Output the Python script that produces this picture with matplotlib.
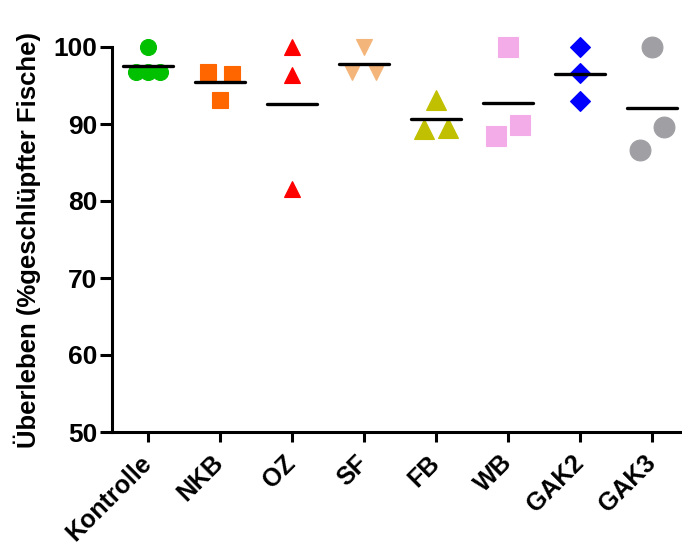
import numpy as np
import matplotlib
matplotlib.use('Agg')
import matplotlib.pyplot as plt

# group names
groups = ['Kontrolle', 'NKB', 'OZ', 'SF', 'FB', 'WB', 'GAK2', 'GAK3']

# survival per replicate (% hatched fish)
kontrolle = [100.0, 96.7, 96.7, 96.7]
nkb = [96.7, 96.5, 93.1]
oz = [100.0, 96.3, 81.5]
sf = [100.0, 96.7, 96.7]
fb = [93.1, 89.3, 89.5]
wb = [100.0, 88.4, 89.9]
gak2 = [100.0, 96.6, 93.0]
gak3 = [100.0, 86.6, 89.6]

values = [kontrolle, nkb, oz, sf, fb, wb, gak2, gak3]

colors = ['#00C000', '#FF6600', '#FF0000', '#F4B57A', '#C0C000', '#F4ACE8', '#0000FF', '#A0A0A4']
markers = ['o', 's', '^', 'v', '^', 's', 'D', 'o']
msizes = [11.5, 11.5, 11.5, 11.5, 15, 14.5, 10.5, 15]

yticks = [50, 60, 70, 80, 90, 100]

plt.rcParams['font.family'] = ['Liberation Sans', 'DejaVu Sans']
plt.rcParams['font.weight'] = 'bold'


def spread(vals, thr=3.15):
    # side by side placement of points that would overlap
    vals = np.asarray(vals)
    order = np.argsort(vals, kind='stable')
    clusters = [[order[0]]]
    for i in order[1:]:
        if vals[i] - vals[clusters[-1][-1]] < thr:
            clusters[-1].append(i)
        else:
            clusters.append([i])
    offs = np.zeros(len(vals))
    pattern = {1: [0.0], 2: [-0.16, 0.16], 3: [-0.17, 0.0, 0.17]}
    for c in clusters:
        c = sorted(c)
        for k, i in enumerate(c):
            offs[i] = pattern[len(c)][k]
    return offs


fig = plt.figure(figsize=(6.82, 5.52), dpi=100)
ax = fig.add_axes([112/682, 120/552, 576/682, 385/552])

for gIter in range(len(groups)):
    v = np.asarray(values[gIter])
    xs = gIter + spread(v)
    ax.plot(xs, v, linestyle='none', marker=markers[gIter], markersize=msizes[gIter],
            color=colors[gIter], markeredgecolor=colors[gIter], markeredgewidth=0.8,
            clip_on=False, zorder=3)
    m = v.mean()
    ax.plot([gIter - 0.35, gIter + 0.35], [m, m], color='black', linewidth=2.4,
            solid_capstyle='round', zorder=4, clip_on=False)

ax.set_xlim(-0.5, len(groups) - 0.5)
ax.set_ylim(50, 100)
ax.set_yticks(yticks)
ax.set_xticks(range(len(groups)))
ax.set_xticklabels(groups, rotation=45, ha='right', va='center', rotation_mode='anchor',
                   fontsize=18, fontweight='bold')
ax.tick_params(axis='y', labelsize=19, length=8.5, width=2.2, pad=2)
ax.tick_params(axis='x', length=7.5, width=2.2, pad=12)

for s in ['top', 'right']:
    ax.spines[s].set_visible(False)
for s in ['left', 'bottom']:
    ax.spines[s].set_linewidth(2.2)

ax.set_ylabel('Überleben (%geschlüpfter Fische)', fontsize=18.5, fontweight='bold', labelpad=9)

fig.savefig('out.png', dpi=100)
